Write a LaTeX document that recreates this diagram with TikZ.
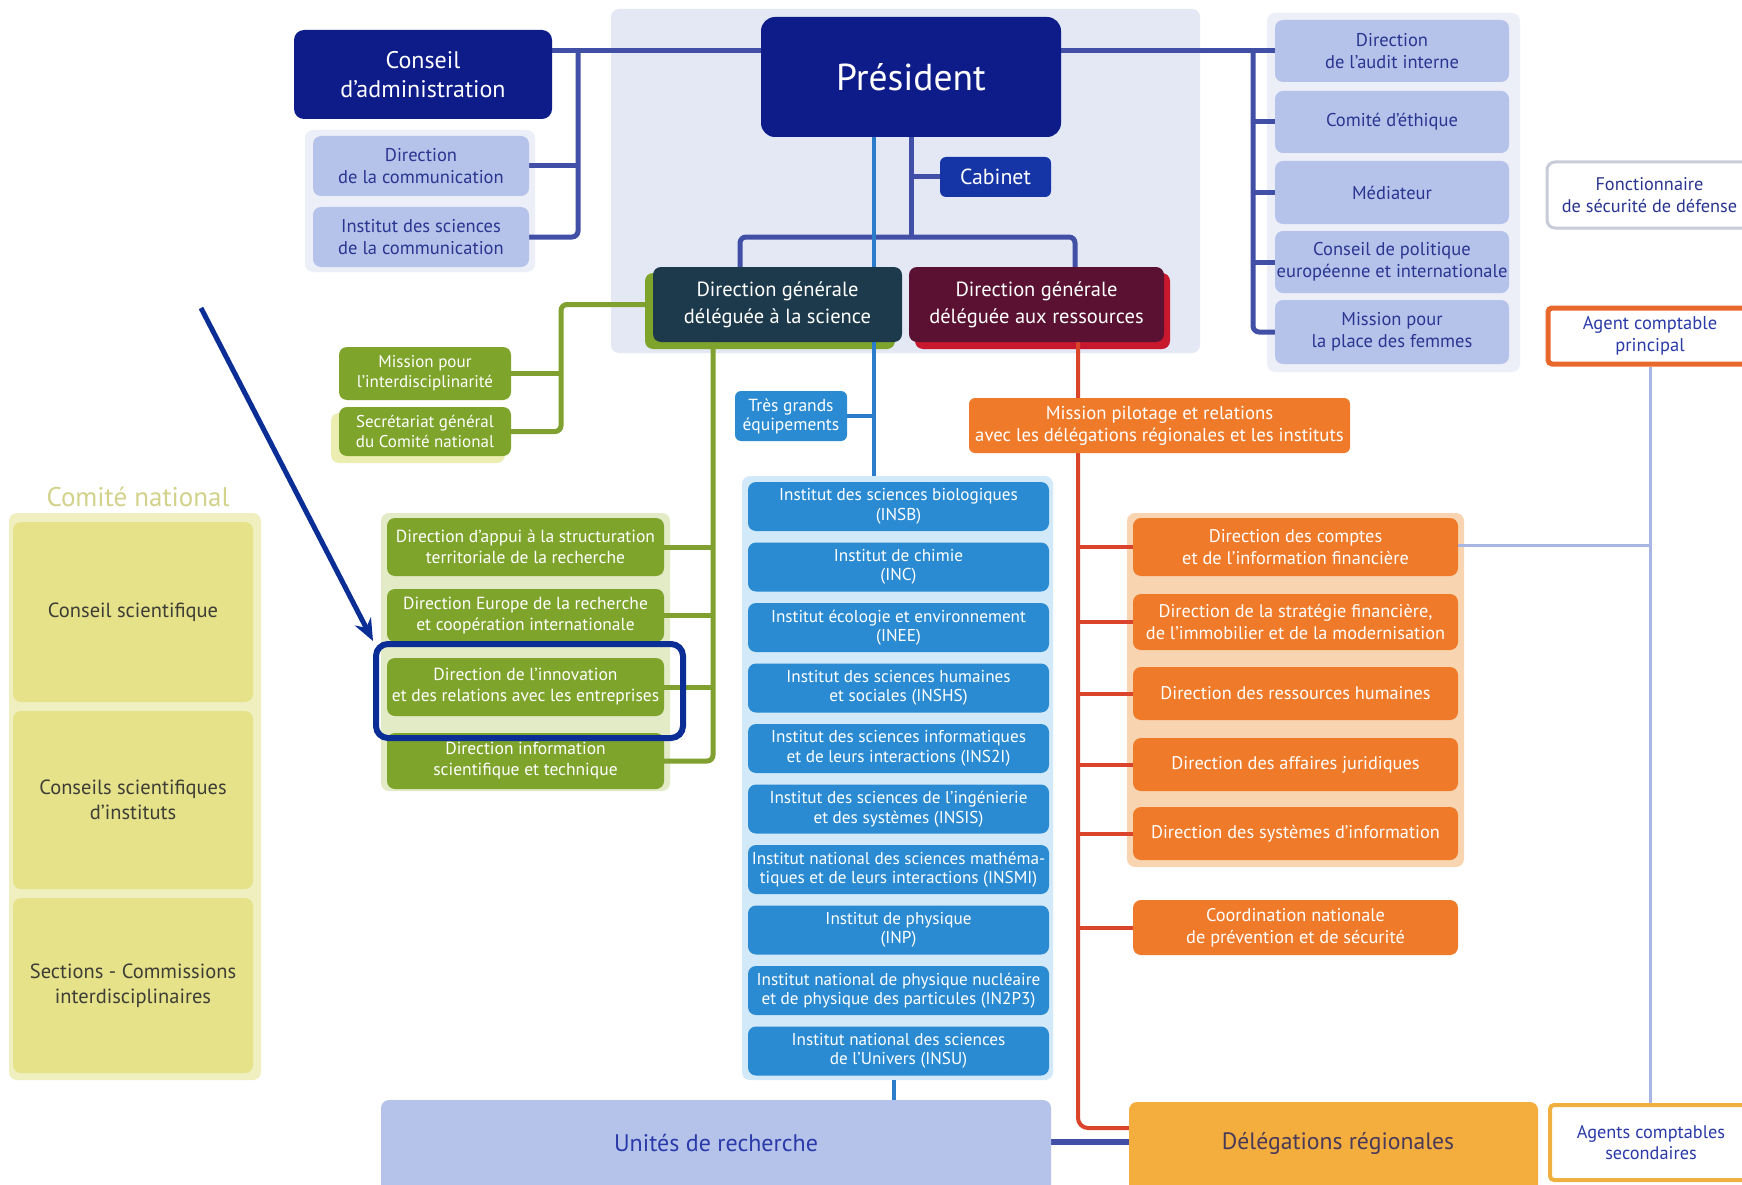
\documentclass[tikz,border=0pt]{standalone}
\usepackage{fontspec}
\setmainfont{PT Sans}
\usetikzlibrary{arrows.meta}
\pgfdeclarelayer{panel}
\pgfdeclarelayer{bg}
\pgfsetlayers{panel,bg,main}
\definecolor{navy}{HTML}{0E1C8A}
\definecolor{cabc}{HTML}{1535A6}
\definecolor{lbl}{HTML}{B5C3EB}
\definecolor{lbltxt}{HTML}{2A3590}
\definecolor{toppan}{HTML}{E4E8F5}
\definecolor{sidepan}{HTML}{ECEEF8}
\definecolor{navyline}{HTML}{4150A6}
\definecolor{grn}{HTML}{7EA42C}
\definecolor{grnpan}{HTML}{E2EAC6}
\definecolor{grnline}{HTML}{80A030}
\definecolor{blu}{HTML}{2A8BD2}
\definecolor{blupan}{HTML}{D2E9F9}
\definecolor{bluline}{HTML}{2B7CCB}
\definecolor{org}{HTML}{EF7A2A}
\definecolor{orgpan}{HTML}{F8D5B0}
\definecolor{redline}{HTML}{D9442B}
\definecolor{ylw}{HTML}{E5E28A}
\definecolor{ylwpan}{HTML}{F0EFC0}
\definecolor{ylwlab}{HTML}{D2D28A}
\definecolor{ylwtxt}{HTML}{3E3E36}
\definecolor{dele}{HTML}{F4AE3E}
\definecolor{deletxt}{HTML}{4A3A5A}
\definecolor{unitxt}{HTML}{2A3AA8}
\definecolor{hil}{HTML}{0A2E96}
\definecolor{dgsc}{HTML}{1D3A4C}
\definecolor{dgrc}{HTML}{5B1131}
\definecolor{dgrsh}{HTML}{C8182E}
\definecolor{fonc}{HTML}{C8CCD8}
\definecolor{acpb}{HTML}{E8672B}
\definecolor{acsb}{HTML}{F0B040}
\definecolor{lbline}{HTML}{A8B6E4}
\definecolor{secsh}{HTML}{ECEDB0}
\newcommand\fs[2]{\fontsize{#1}{#2}\selectfont}
\newcommand\mkbox[7]{\node[#2,minimum width={#5-#3},minimum height={#6-#4}] (#1) at ({(#3+#5)/2},{(#4+#6)/2}) {#7};}
\begin{document}
\begin{tikzpicture}[x=1pt,y=-1pt,
  box/.style={rounded corners=8pt,inner sep=0pt,align=center},
  navybox/.style={box,fill=navy,text=white,rounded corners=14pt},
  lbox/.style={box,fill=lbl,text=lbltxt,font=\fs{18.5}{22}},
  gbox/.style={box,fill=grn,text=white,font=\fs{17.5}{21}},
  bbox/.style={box,fill=blu,text=white,font=\fs{17.2}{19.5}},
  obox/.style={box,fill=org,text=white,font=\fs{18.3}{22}},
  ybox/.style={box,fill=ylw,text=ylwtxt,font=\fs{20.5}{25}},
  pan/.style={rounded corners=8pt,inner sep=0pt},
  nl/.style={draw=navyline,line width=5pt},
  gl/.style={draw=grnline,line width=5pt},
  bl/.style={draw=bluline,line width=4pt},
  rl/.style={draw=redline,line width=4pt},
  ll/.style={draw=lbline,line width=3pt},
]
\clip (0,0) rectangle (1742,1185);

% panels
\begin{pgfonlayer}{panel}
\fill[white] (0,0) rectangle (1742,1185);
\mkbox{toppanel}{pan,fill=toppan}{611}{9}{1200}{353}{}
\mkbox{leftpanel}{pan,fill=sidepan}{305}{130}{535}{272}{}
\mkbox{rightpanel}{pan,fill=sidepan}{1267}{13}{1520}{372}{}
\mkbox{gpanel}{pan,fill=grnpan}{381}{513}{670}{791}{}
\mkbox{ipanel}{pan,fill=blupan}{742}{476}{1053}{1080}{}
\mkbox{opanel}{pan,fill=orgpan}{1127}{513}{1464}{867}{}
\mkbox{ypanel}{pan,fill=ylwpan}{9}{513}{261}{1080}{}
\fill[grn,rounded corners=8pt] (645,273) rectangle (895,349);
\fill[dgrsh,rounded corners=8pt] (915,273) rectangle (1170,349);
\fill[secsh,rounded corners=8pt] (331,413) rectangle (505,463);
\end{pgfonlayer}

% top
\mkbox{pres}{navybox,font=\fs{37.5}{42}}{761}{17}{1061}{137}{Président}
\mkbox{conseil}{navybox,font=\fs{24}{29},rounded corners=10pt}{294}{30}{552}{119}{Conseil\\d'administration}
\mkbox{dircom}{lbox}{313}{136}{529}{196}{Direction\\de la communication}
\mkbox{isc}{lbox}{313}{207}{529}{267}{Institut des sciences\\de la communication}
\mkbox{cabinet}{box,fill=cabc,text=white,font=\fs{21.8}{24},rounded corners=6pt}{940}{157}{1051}{197}{Cabinet}
\mkbox{dgs}{box,fill=dgsc,text=white,font=\fs{20.5}{27}}{653}{267}{902}{342}{Direction générale\\déléguée à la science}
\mkbox{dgr}{box,fill=dgrc,text=white,font=\fs{20.5}{27}}{909}{267}{1164}{342}{Direction générale\\déléguée aux ressources}

% right column
\mkbox{audit}{lbox}{1275}{20}{1509}{82}{Direction\\de l'audit interne}
\mkbox{ethique}{lbox}{1275}{91}{1509}{153}{Comité d'éthique}
\mkbox{mediateur}{lbox}{1275}{161}{1509}{224}{Médiateur}
\mkbox{cpei}{lbox}{1275}{231}{1509}{293}{Conseil de politique\\européenne et internationale}
\mkbox{femmes}{lbox}{1275}{300}{1509}{364}{Mission pour\\la place des femmes}
\mkbox{fonc}{box,fill=white,draw=fonc,line width=3pt,text=lbltxt,font=\fs{18.3}{22}}{1547}{162}{1752}{228}{Fonctionnaire\\de sécurité de défense}
\mkbox{acp}{box,fill=white,draw=acpb,line width=5pt,text=unitxt,font=\fs{18.5}{22},rounded corners=4pt}{1548}{308}{1752}{364}{Agent comptable\\principal}

% green
\mkbox{mint}{gbox,font=\fs{17}{20}}{339}{347}{511}{400}{Mission pour\\l'interdisciplinarité}
\mkbox{secr}{gbox,font=\fs{17}{20}}{339}{407}{511}{456}{Secrétariat général\\du Comité national}
\mkbox{g1}{gbox}{387}{518}{664}{576}{Direction d'appui à la structuration\\territoriale de la recherche}
\mkbox{g2}{gbox}{387}{589}{664}{642}{Direction Europe de la recherche\\et coopération internationale}
\mkbox{g3}{gbox}{387}{658}{664}{716}{Direction de l'innovation\\et des relations avec les entreprises}
\mkbox{g4}{gbox}{387}{733}{664}{789}{Direction information\\scientifique et technique}

% blue
\mkbox{tge}{box,fill=blu,text=white,font=\fs{17.5}{19},rounded corners=6pt}{735}{391}{847}{441}{Très grands\\équipements}
\mkbox{i1}{bbox}{748}{482}{1049}{531}{Institut des sciences biologiques\\(INSB)}
\mkbox{i2}{bbox}{748}{542.5}{1049}{591.5}{Institut de chimie\\(INC)}
\mkbox{i3}{bbox}{748}{603}{1049}{652}{Institut écologie et environnement\\(INEE)}
\mkbox{i4}{bbox}{748}{663.5}{1049}{712.5}{Institut des sciences humaines\\et sociales (INSHS)}
\mkbox{i5}{bbox}{748}{724}{1049}{773}{Institut des sciences informatiques\\et de leurs interactions (INS2I)}
\mkbox{i6}{bbox}{748}{784.5}{1049}{833.5}{Institut des sciences de l'ingénierie\\et des systèmes (INSIS)}
\mkbox{i7}{bbox}{748}{845}{1049}{894}{Institut national des sciences mathéma-\\tiques et de leurs interactions (INSMI)}
\mkbox{i8}{bbox}{748}{905.5}{1049}{954.5}{Institut de physique\\(INP)}
\mkbox{i9}{bbox}{748}{966}{1049}{1015}{Institut national de physique nucléaire\\et de physique des particules (IN2P3)}
\mkbox{i10}{bbox}{748}{1026.5}{1049}{1075.5}{Institut national des sciences\\de l'Univers (INSU)}

% orange
\mkbox{pilot}{obox,font=\fs{18.7}{22},rounded corners=6pt}{969}{398}{1350}{453}{Mission pilotage et relations\\avec les délégations régionales et les instituts}
\mkbox{o1}{obox}{1133}{518}{1458}{576}{Direction des comptes\\et de l'information financière}
\mkbox{o2}{obox}{1133}{594}{1458}{650}{Direction de la stratégie financière,\\de l'immobilier et de la modernisation}
\mkbox{o3}{obox}{1133}{667}{1458}{720}{Direction des ressources humaines}
\mkbox{o4}{obox}{1133}{738}{1458}{791}{Direction des affaires juridiques}
\mkbox{o5}{obox}{1133}{807}{1458}{860}{Direction des systèmes d'information}
\mkbox{coord}{obox}{1133}{900}{1458}{955}{Coordination nationale\\de prévention et de sécurité}

% yellow
\node[text=ylwlab,font=\fs{27}{30}] (cnlab) at (138,497) {Comité national};
\mkbox{y1}{ybox}{13}{522}{253}{702}{Conseil scientifique}
\mkbox{y2}{ybox}{13}{711}{253}{889}{Conseils scientifiques\\d'instituts}
\mkbox{y3}{ybox}{13}{898}{253}{1073}{Sections - Commissions\\interdisciplinaires}

% bottom
\mkbox{unites}{box,fill=lbl}{381}{1100}{1051}{1210}{}
\node[text=unitxt,font=\fs{24}{28}] (unitlab) at (716,1143) {Unités de recherche};
\mkbox{deleg}{box,fill=dele}{1129}{1102}{1538}{1210}{}
\node[text=deletxt,font=\fs{23.7}{28}] (delelab) at (1338,1143) {Délégations régionales};
\mkbox{acs}{box,fill=white,draw=acsb,line width=4pt,text=unitxt,font=\fs{18.3}{21},rounded corners=4pt}{1550}{1105}{1752}{1180}{Agents comptables\\secondaires}

% connectors
\begin{pgfonlayer}{bg}
\coordinate (lb) at (578,51);
\draw[nl] (conseil.east |- lb) -- (pres.west |- lb);
\draw[nl,rounded corners=6pt] (lb) |- (isc.east);
\draw[nl] (dircom.east) -- (dircom.east -| lb);
\coordinate (rb) at (1253,51);
\draw[nl] (pres.east |- audit.west) -- (audit.west);
\draw[nl,rounded corners=6pt] (rb) |- (femmes.west);
\foreach \n in {ethique,mediateur,cpei} \draw[nl] (\n.west) -- (\n.west -| rb);
\coordinate (pm) at (911,237);
\draw[nl] (pres.south) -- (pm);
\draw[nl] (cabinet.west) -- (cabinet.west -| pm);
\coordinate (hl) at (740,237);
\coordinate (hr) at (1075,237);
\draw[nl,rounded corners=6pt] (dgs.north -| hl) -- (hl) -- (hr) -- (dgr.north -| hr);
% blue
\coordinate (bv) at (874,0);
\draw[bl] (pres.south -| bv) -- (ipanel.north -| bv);
\draw[bl] (tge.east) -- (tge.east -| bv);
\coordinate (bu) at (894,0);
\draw[bl] (ipanel.south -| bu) -- (unites.north -| bu);
% green
\coordinate (gv1) at (561,0);
\draw[gl,rounded corners=6pt] (dgs.west) -| (secr.east -| gv1) -- (secr.east);
\draw[gl] (mint.east) -- (mint.east -| gv1);
\coordinate (gv2) at (713,0);
\draw[gl,rounded corners=6pt] (dgs.south -| gv2) |- (g4.east);
\foreach \n in {g1,g2,g3} \draw[gl] (\n.east) -- (\n.east -| gv2);
% red
\coordinate (rv) at (1078,1128);
\draw[rl,rounded corners=10pt] (dgr.south -| rv) -- (rv) -- (deleg.west |- rv);
\foreach \n in {o1,o2,o3,o4,o5,coord} \draw[rl] (\n.west) -- (\n.west -| rv);
% unites - delegations
\coordinate (ud) at (0,1142);
\draw[draw=navyline,line width=6pt] (unites.east |- ud) -- (deleg.west |- ud);
% light blue right
\coordinate (lv) at (1650,545);
\draw[ll] (acp.south -| lv) -- (acs.north -| lv);
\draw[ll] (o1.east |- lv) -- (lv);
\end{pgfonlayer}

% highlight and arrow
\mkbox{hilite}{draw=hil,line width=6pt,rounded corners=12pt,inner sep=0pt}{376}{644}{683}{738}{}
\coordinate (astart) at (201,308);
\draw[draw=hil,line width=5pt,-{Stealth[length=22pt,width=18pt]}] (astart) -- (hilite.north west);
\end{tikzpicture}
\end{document}
